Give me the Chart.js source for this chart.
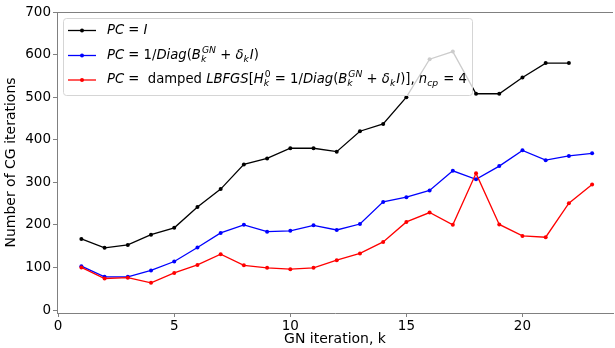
<!DOCTYPE html>
<html>
<head>
<meta charset="utf-8">
<script src="https://cdn.jsdelivr.net/npm/chart.js@4/dist/chart.umd.min.js"></script>
<style>
  body { margin: 0; background: #fff; }
  #wrap { width: 615px; height: 348px; }
</style>
</head>
<body>
<div id="wrap"><canvas id="cgChart" width="615" height="348"></canvas></div>
<script>
// datos
const gnIter = [1, 2, 3, 4, 5, 6, 7, 8, 9, 10, 11, 12, 13, 14, 15, 16, 17, 18, 19, 20, 21, 22, 23];
const pcIdentity = [167, 146, 153, 177, 193, 242, 284, 342, 356, 380, 380, 372, 420, 437, 500, 589, 607, 508, 508, 546, 580, 580];
const pcDiag = [103, 78, 78, 93, 114, 147, 181, 200, 184, 186, 199, 188, 202, 254, 265, 281, 327, 307, 338, 375, 352, 362, 368];
const pcLbfgs = [100, 74, 76, 64, 87, 106, 131, 105, 99, 96, 99, 117, 133, 160, 207, 229, 200, 321, 201, 174, 171, 251, 295];
const xTicks = [0, 5, 10, 15, 20];
const yTicks = [0, 100, 200, 300, 400, 500, 600, 700];

const FONT = 'DejaVu Sans';
const GRIS = '#808080';

function puntos(valores) {
    return valores.map((v, i) => ({ x: gnIter[i], y: v }));
}

// texto de la leyenda (segmentos con cursiva / subíndices)
const leyenda = [
    { color: '#000000', segs: [{ t: 'PC', i: true }, { t: ' = ' }, { t: 'I', i: true }] },
    { color: '#0000ff', segs: [{ t: 'PC', i: true }, { t: ' = 1/' }, { t: 'Diag', i: true }, { t: '(' }, { t: 'B', i: true },
        { sup: 'GN', sub: 'k', i: true }, { t: ' + ' }, { t: 'δ', i: true }, { sub: 'k', i: true }, { t: 'I', i: true }, { t: ')' }] },
    { color: '#ff0000', segs: [{ t: 'PC', i: true }, { t: ' =  damped ' }, { t: 'LBFGS', i: true }, { t: '[' }, { t: 'H', i: true },
        { sup: '0', sub: 'k', i: true, supUp: true }, { t: ' = 1/' }, { t: 'Diag', i: true }, { t: '(' }, { t: 'B', i: true },
        { sup: 'GN', sub: 'k', i: true }, { t: ' + ' }, { t: 'δ', i: true }, { sub: 'k', i: true }, { t: 'I', i: true }, { t: ')]' },
        { t: ', ' }, { t: 'n', i: true }, { sub: 'cp', i: true }, { t: ' = 4' }] }
];

function dibujarTexto(ctx, segs, x, y, size) {
    let cx = x;
    ctx.textBaseline = 'middle';
    ctx.textAlign = 'left';
    segs.forEach(s => {
        if (s.t !== undefined) {
            ctx.font = (s.i ? 'italic ' : '') + size + 'px ' + FONT;
            ctx.fillText(s.t, cx, y);
            cx += ctx.measureText(s.t).width;
        } else {
            const small = size * 0.7;
            let w = 0;
            if (s.sup) {
                ctx.font = (s.supUp ? '' : 'italic ') + small + 'px ' + FONT;
                ctx.fillText(s.sup, cx + 1, y - size * 0.38);
                w = Math.max(w, ctx.measureText(s.sup).width);
            }
            if (s.sub) {
                ctx.font = 'italic ' + small + 'px ' + FONT;
                ctx.fillText(s.sub, cx, y + size * 0.3);
                w = Math.max(w, ctx.measureText(s.sub).width);
            }
            cx += w + 1;
        }
    });
}

const pluginExtras = {
    id: 'extras',
    afterDatasetsDraw(chart) {
        const ctx = chart.ctx;
        const area = chart.chartArea;
        ctx.save();
        // borde superior
        ctx.strokeStyle = GRIS;
        ctx.lineWidth = 1;
        ctx.beginPath();
        ctx.moveTo(area.left, area.top + 0.5);
        ctx.lineTo(area.right, area.top + 0.5);
        ctx.stroke();

        // caja de leyenda
        const bx = 63.5, by = 18.5, bw = 409, bh = 77;
        ctx.beginPath();
        ctx.roundRect(bx, by, bw, bh, 3);
        ctx.fillStyle = 'rgba(255,255,255,0.8)';
        ctx.fill();
        ctx.strokeStyle = '#d5d5d5';
        ctx.stroke();

        const filas = [30.5, 55.5, 80];
        leyenda.forEach((e, i) => {
            const y = filas[i];
            ctx.strokeStyle = e.color;
            ctx.lineWidth = 1.3;
            ctx.beginPath();
            ctx.moveTo(68, y);
            ctx.lineTo(96, y);
            ctx.stroke();
            ctx.fillStyle = e.color;
            ctx.beginPath();
            ctx.arc(82, y, 2, 0, Math.PI * 2);
            ctx.fill();
            ctx.fillStyle = '#000';
            dibujarTexto(ctx, e.segs, 107, y, 13.2);
        });
        ctx.restore();
    }
};

function serie(valores, color, orden) {
    return {
        data: puntos(valores),
        borderColor: color,
        backgroundColor: color,
        borderWidth: 1.3,
        pointRadius: 2,
        pointBorderWidth: 0,
        pointHoverRadius: 2,
        order: orden,
        tension: 0
    };
}

new Chart(document.getElementById('cgChart'), {
    type: 'line',
    data: {
        datasets: [
            serie(pcIdentity, '#000000', 2),
            serie(pcDiag, '#0000ff', 1),
            serie(pcLbfgs, '#ff0000', 0)
        ]
    },
    plugins: [pluginExtras],
    options: {
        responsive: false,
        animation: false,
        layout: { padding: { top: 12, right: 0, left: 0, bottom: 0 } },
        plugins: {
            legend: { display: false },
            tooltip: { enabled: false }
        },
        scales: {
            x: {
                type: 'linear',
                min: -0.05,
                max: 23.9,
                afterBuildTicks: axis => { axis.ticks = xTicks.map(v => ({ value: v })); },
                afterFit: axis => { axis.height = 35; },
                grid: { display: true, drawOnChartArea: false, tickLength: 4, color: GRIS },
                border: { color: GRIS, width: 1 },
                ticks: { color: '#000', font: { family: FONT, size: 13.5 }, padding: 1, maxRotation: 0 },
                title: { display: true, text: 'GN iteration, k', color: '#000', font: { family: FONT, size: 14 }, padding: { top: 0, bottom: 0 } }
            },
            y: {
                min: -7,
                max: 700,
                afterBuildTicks: axis => { axis.ticks = yTicks.map(v => ({ value: v })); },
                afterFit: axis => { axis.width = 57; },
                grid: { display: true, drawOnChartArea: false, tickLength: 4, color: GRIS },
                border: { color: GRIS, width: 1 },
                ticks: { color: '#000', font: { family: FONT, size: 13.5 }, padding: 2 },
                title: { display: true, text: 'Number of CG iterations', color: '#000', font: { family: FONT, size: 14 }, padding: { top: 3, bottom: 0 } }
            }
        }
    }
});
</script>
</body>
</html>
